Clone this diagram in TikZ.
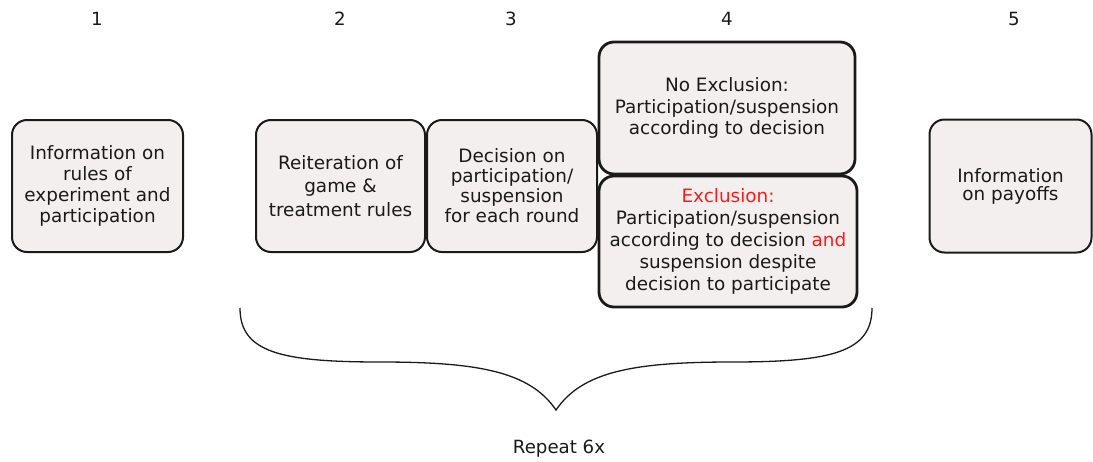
\documentclass[tikz,border=0pt]{standalone}
\usepackage{fontspec}
\setmainfont{DejaVu Sans}
\definecolor{boxfill}{HTML}{F4EFEF}
\definecolor{ink}{HTML}{1A1A1A}
\definecolor{exred}{HTML}{FF1A1A}
\tikzset{
  stagebox/.style={draw=ink, fill=boxfill, rounded corners=15pt, line width=2pt,
    align=center, inner sep=2pt, text=ink, font=\fontsize{18.4}{21}\selectfont},
  thickbox/.style={stagebox, line width=2.8pt},
  numlabel/.style={text=ink, font=\fontsize{18.2}{21}\selectfont, inner sep=0pt},
}
\begin{document}
\begin{tikzpicture}[x=1pt,y=-1pt]
\useasboundingbox (0,0) rectangle (1093,461);
% stage numbers
\node[numlabel] (n1) at (97,19) {1};
\node[numlabel] (n2) at (340,19) {2};
\node[numlabel] (n3) at (511,19) {3};
\node[numlabel] (n4) at (727,19) {4};
\node[numlabel] (n5) at (1014,19) {5};
% boxes
\node[stagebox, minimum width=171pt, minimum height=132pt] (b1) at (97.5,186)
  {Information on\\rules of\\experiment and\\participation};
\node[stagebox, minimum width=169pt, minimum height=132pt,
  font=\fontsize{18.4}{23.5}\selectfont] (b2) at (340.5,186)
  {Reiteration of\\game \&\\treatment rules};
\node[stagebox, minimum width=170pt, minimum height=132pt,
  font=\fontsize{18.4}{20}\selectfont] (b3) at (512,186)
  {Decision on\\participation/\\suspension\\for each round};
\node[thickbox, minimum width=256pt, minimum height=132pt,
  font=\fontsize{18.4}{21.5}\selectfont] (b4a) at (727,108)
  {No Exclusion:\\Participation/suspension\\according to decision};
\node[thickbox, minimum width=258pt, minimum height=131pt,
  font=\fontsize{18.4}{22}\selectfont] (b4b) at (728,241.5)
  {\textcolor{exred}{Exclusion:}\\Participation/suspension\\according to decision \textcolor{exred}{and}\\suspension despite\\decision to participate};
\node[stagebox, minimum width=162pt, minimum height=133pt,
  font=\fontsize{18.4}{18}\selectfont] (b5) at (1010.5,186)
  {Information\\on payoffs};
% brace
\coordinate (bl) at (240,308);
\coordinate (br) at (872,308);
\coordinate (tip) at (556,410);
\draw[ink, line width=1.3pt]
  (bl) .. controls (240,352) and (280,362) .. (380,362)
  .. controls (480,362) and (530,372) .. (tip)
  .. controls (582,372) and (632,362) .. (732,362)
  .. controls (832,362) and (872,352) .. (br);
\node[numlabel] (rep) at (559,449) {Repeat 6x};
\end{tikzpicture}
\end{document}
